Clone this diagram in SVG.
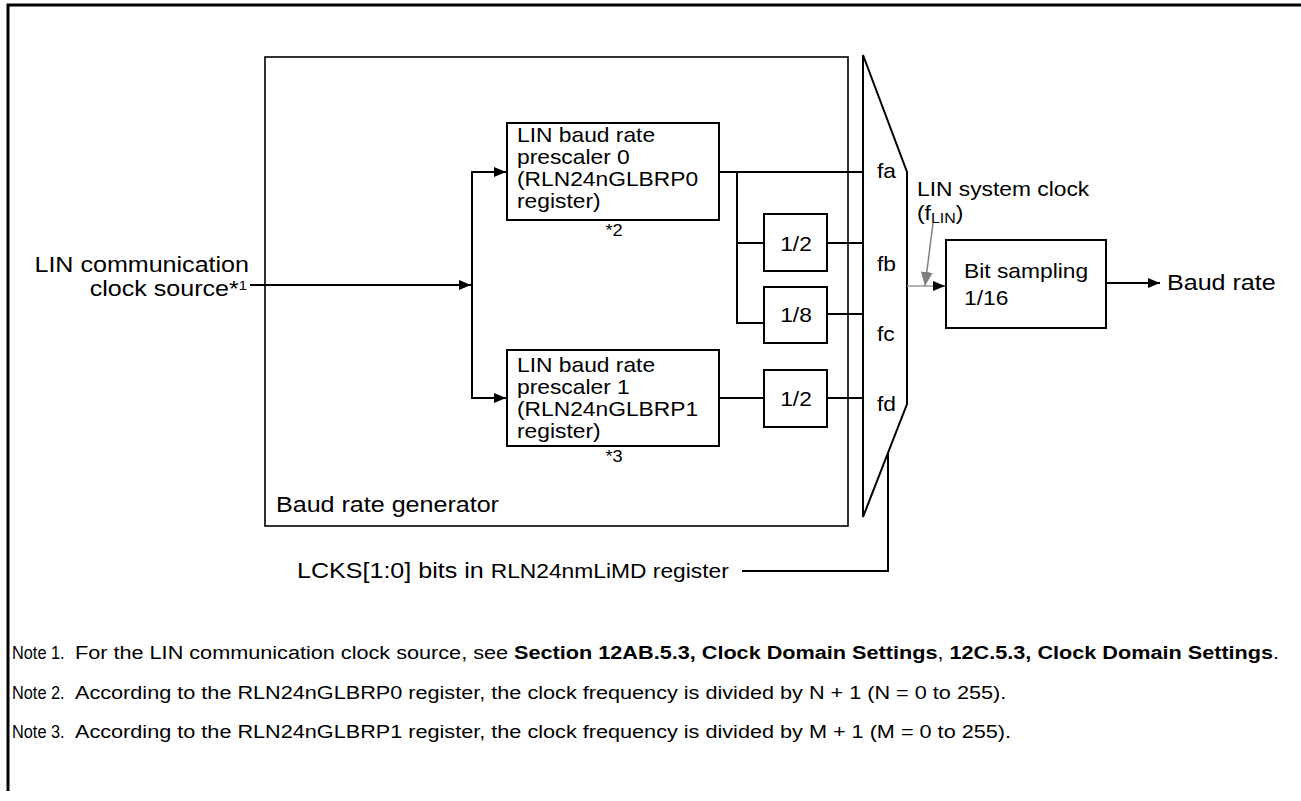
<svg xmlns="http://www.w3.org/2000/svg" width="1301" height="801" viewBox="0 0 1301 801">
<style>
text{font-family:"Liberation Sans",Arial,sans-serif;fill:#000}
.lbl{font-size:22px}
.box-t{font-size:20px}
.note{font-size:19px}
.b{font-weight:bold}
.ln{fill:none;stroke:#000;stroke-width:2}
.bx{fill:#fff;stroke:#000;stroke-width:2}
</style>
<defs>
<marker id="ah" markerUnits="userSpaceOnUse" markerWidth="12" markerHeight="10" refX="12" refY="5" orient="auto"><path d="M0,0 L12,5 L0,10 Z" fill="#000"/></marker>
<marker id="ahg" markerUnits="userSpaceOnUse" markerWidth="14" markerHeight="12" refX="14" refY="6" orient="auto"><path d="M0,0 L14,6 L0,12 Z" fill="#808080"/></marker>
</defs>
<rect width="1301" height="801" fill="#fff"/>
<path d="M8,791 L8,5 L1301,5" fill="none" stroke="#000" stroke-width="3"/>

<g id="generator">
<rect x="265" y="57" width="583" height="469" fill="none" stroke="#000" stroke-width="1.6"/>
<text class="lbl" transform="translate(276,512) scale(1.14,1)">Baud rate generator</text>
</g>

<g id="source">
<text class="lbl" text-anchor="end" transform="translate(249,272) scale(1.14,1)">LIN communication</text>
<text class="lbl" text-anchor="end" transform="translate(247,296) scale(1.14,1)">clock source*<tspan font-size="13" dy="-6">1</tspan></text>
</g>

<g id="prescaler0">
<rect class="bx" x="507" y="123" width="212" height="97"/>
<text class="box-t" transform="translate(517,142) scale(1.14,1)">LIN baud rate</text>
<text class="box-t" transform="translate(517,164) scale(1.14,1)">prescaler 0</text>
<text class="box-t" transform="translate(517,186) scale(1.14,1)">(RLN24nGLBRP0</text>
<text class="box-t" transform="translate(517,208) scale(1.14,1)">register)</text>
<text font-size="16" text-anchor="middle" transform="translate(614,236) scale(1.14,1)">*2</text>
</g>

<g id="prescaler1">
<rect class="bx" x="507" y="350" width="212" height="96"/>
<text class="box-t" transform="translate(517,372) scale(1.14,1)">LIN baud rate</text>
<text class="box-t" transform="translate(517,394) scale(1.14,1)">prescaler 1</text>
<text class="box-t" transform="translate(517,416) scale(1.14,1)">(RLN24nGLBRP1</text>
<text class="box-t" transform="translate(517,438) scale(1.14,1)">register)</text>
<text font-size="16" text-anchor="middle" transform="translate(614,462) scale(1.14,1)">*3</text>
</g>

<g id="div2a">
<rect class="bx" x="764" y="214" width="63" height="57"/>
<text class="box-t" text-anchor="middle" transform="translate(796,251) scale(1.14,1)">1/2</text>
</g>
<g id="div8">
<rect class="bx" x="764" y="287" width="63" height="56"/>
<text class="box-t" text-anchor="middle" transform="translate(796,322) scale(1.14,1)">1/8</text>
</g>
<g id="div2b">
<rect class="bx" x="764" y="370" width="63" height="57"/>
<text class="box-t" text-anchor="middle" transform="translate(796,406) scale(1.14,1)">1/2</text>
</g>

<g id="mux">
<path d="M863,55 L907,172 L907,404 L863,517 Z" fill="none" stroke="#000" stroke-width="2"/>
<text class="box-t" transform="translate(877,178) scale(1.14,1)">fa</text>
<text class="box-t" transform="translate(877,271) scale(1.14,1)">fb</text>
<text class="box-t" transform="translate(877,341) scale(1.14,1)">fc</text>
<text class="box-t" transform="translate(877,411) scale(1.14,1)">fd</text>
</g>

<g id="sysclk-label">
<text class="box-t" transform="translate(917,196) scale(1.14,1)">LIN system clock</text>
<text class="box-t" transform="translate(917,220) scale(1.14,1)">(f<tspan font-size="14" dy="3">LIN</tspan><tspan dy="-3">)</tspan></text>
</g>

<g id="bitsampling">
<rect class="bx" x="946" y="240" width="160" height="88"/>
<text class="box-t" transform="translate(964,278) scale(1.14,1)">Bit sampling</text>
<text class="box-t" transform="translate(964,305) scale(1.14,1)">1/16</text>
</g>

<g id="baudrate">
<text class="lbl" transform="translate(1167,290) scale(1.14,1)">Baud rate</text>
</g>

<g id="lcks">
<text class="lbl" transform="translate(297,578) scale(1.14,1)">LCKS[1:0] bits in <tspan font-size="20">RLN24nmLiMD register</tspan></text>
</g>

<g id="connectors">
<line class="ln" x1="250" y1="285" x2="471" y2="285" marker-end="url(#ah)"/>
<polyline class="ln" points="507,172 472,172 472,398 507,398"/>
<line class="ln" x1="472" y1="172" x2="506" y2="172" marker-end="url(#ah)"/>
<line class="ln" x1="472" y1="398" x2="506" y2="398" marker-end="url(#ah)"/>
<line class="ln" x1="719" y1="172" x2="863" y2="172"/>
<polyline class="ln" points="737,172 737,323 764,323"/>
<line class="ln" x1="737" y1="243" x2="764" y2="243"/>
<line class="ln" x1="827" y1="243" x2="863" y2="243"/>
<line class="ln" x1="827" y1="314" x2="863" y2="314"/>
<line class="ln" x1="719" y1="398" x2="764" y2="398"/>
<line class="ln" x1="827" y1="398" x2="863" y2="398"/>
<line x1="907" y1="286" x2="936" y2="286" stroke="#999" stroke-width="1.5"/>
<line x1="934" y1="286" x2="945" y2="286" stroke="#000" stroke-width="1" marker-end="url(#ah)"/>
<line x1="933" y1="223" x2="925" y2="286" stroke="#808080" stroke-width="1.5" marker-end="url(#ahg)"/>
<line class="ln" x1="1106" y1="283" x2="1160" y2="283" marker-end="url(#ah)"/>
<polyline class="ln" points="888,453 888,571 742,571"/>
</g>

<g id="notes">
<text class="note" transform="translate(12,659) scale(0.86,1)">Note 1.</text>
<text class="note" transform="translate(75,659) scale(1.14,1)">For the LIN communication clock source, see <tspan class="b">Section 12AB.5.3, Clock Domain Settings</tspan>, <tspan class="b">12C.5.3, Clock Domain Settings</tspan>.</text>
<text class="note" transform="translate(12,699) scale(0.86,1)">Note 2.</text>
<text class="note" transform="translate(75,699) scale(1.14,1)">According to the RLN24nGLBRP0 register, the clock frequency is divided by N + 1 (N = 0 to 255).</text>
<text class="note" transform="translate(12,738) scale(0.86,1)">Note 3.</text>
<text class="note" transform="translate(75,738) scale(1.14,1)">According to the RLN24nGLBRP1 register, the clock frequency is divided by M + 1 (M = 0 to 255).</text>
</g>
</svg>
